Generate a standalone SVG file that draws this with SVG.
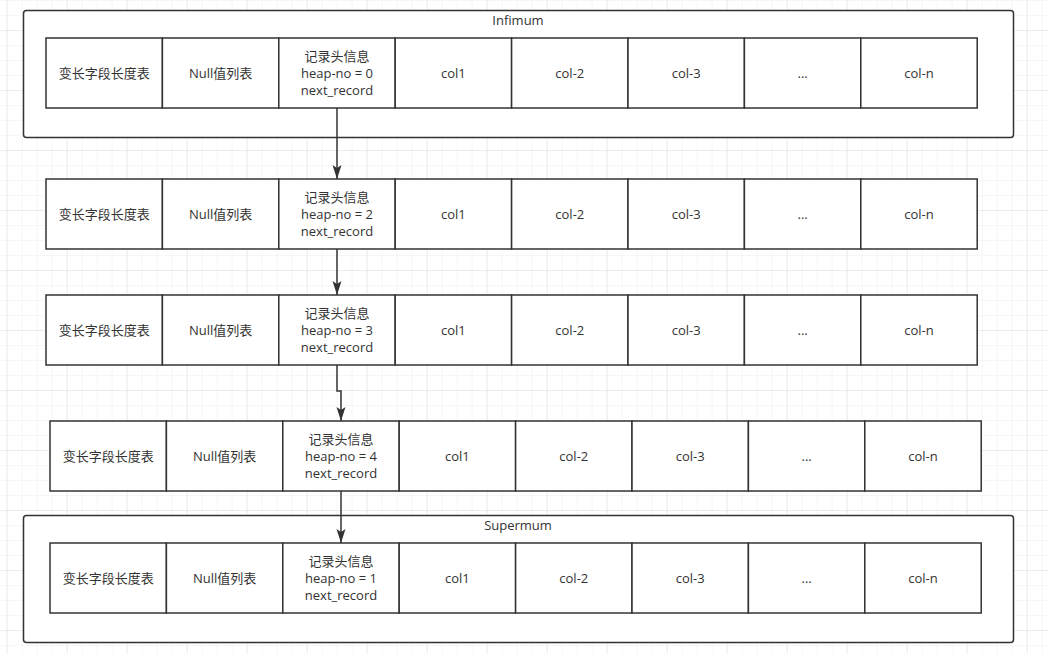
<svg xmlns="http://www.w3.org/2000/svg" width="1049" height="654" viewBox="0 0 1049 654">
<style>
  .cell { fill: #ffffff; stroke: #333333; stroke-width: 1.5; }
  .outer { fill: #ffffff; stroke: #333333; stroke-width: 1.5; }
  .t { font-family: "Open Sans", "Noto Sans", "Noto Sans CJK SC", sans-serif; font-size: 13px; fill: #333333; text-anchor: middle; dominant-baseline: central; }
  .edge { fill: none; stroke: #333333; stroke-width: 1.5; }
</style>
<defs>
  <pattern id="minor" x="6.7" y="0" width="15" height="15" patternUnits="userSpaceOnUse">
    <path d="M0,0 V15 M0,0 H15" fill="none" stroke="#eeeeee" stroke-width="1"/>
  </pattern>
  <pattern id="major" x="6.7" y="30" width="60" height="60" patternUnits="userSpaceOnUse">
    <path d="M0,0 V60 M0,0 H60" fill="none" stroke="#e2e2e2" stroke-width="1"/>
  </pattern>
  <marker id="arrow" viewBox="0 0 14 10" refX="14" refY="5" markerWidth="14" markerHeight="10" markerUnits="userSpaceOnUse" orient="auto">
    <path d="M0,0.5 L14,5 L0,9.5 L3,5 Z" fill="#333333"/>
  </marker>
</defs>
<rect width="1049" height="654" fill="#ffffff"/>
<rect width="1049" height="654" fill="url(#minor)"/>
<rect width="1049" height="654" fill="url(#major)"/>

<g id="infimum">
  <rect class="outer" x="23.5" y="10.5" width="990" height="127" rx="3"/>
  <text class="t" x="518" y="20">Infimum</text>
</g>
<g id="supermum">
  <rect class="outer" x="23.5" y="515.5" width="990" height="127" rx="3"/>
  <text class="t" x="518" y="525">Supermum</text>
</g>

<g id="row1">
  <g id="r1c1"><rect class="cell" x="46" y="38" width="116.4" height="70"/><text class="t" x="104.2" y="73">变长字段长度表</text></g>
  <g id="r1c2"><rect class="cell" x="162.4" y="38" width="116.4" height="70"/><text class="t" x="220.6" y="73">Null值列表</text></g>
  <g id="r1c3"><rect class="cell" x="278.8" y="38" width="116.4" height="70"/><text class="t" x="337" y="73"><tspan x="337" dy="-17">记录头信息</tspan><tspan x="337" dy="17">heap-no = 0</tspan><tspan x="337" dy="17">next_record</tspan></text></g>
  <g id="r1c4"><rect class="cell" x="395.2" y="38" width="116.4" height="70"/><text class="t" x="453.4" y="73">col1</text></g>
  <g id="r1c5"><rect class="cell" x="511.6" y="38" width="116.4" height="70"/><text class="t" x="569.8" y="73">col-2</text></g>
  <g id="r1c6"><rect class="cell" x="628" y="38" width="116.4" height="70"/><text class="t" x="686.2" y="73">col-3</text></g>
  <g id="r1c7"><rect class="cell" x="744.4" y="38" width="116.4" height="70"/><text class="t" x="802.6" y="73">...</text></g>
  <g id="r1c8"><rect class="cell" x="860.8" y="38" width="116.4" height="70"/><text class="t" x="919" y="73">col-n</text></g>
</g>

<g id="row2">
  <g id="r2c1"><rect class="cell" x="46" y="179" width="116.4" height="70"/><text class="t" x="104.2" y="214">变长字段长度表</text></g>
  <g id="r2c2"><rect class="cell" x="162.4" y="179" width="116.4" height="70"/><text class="t" x="220.6" y="214">Null值列表</text></g>
  <g id="r2c3"><rect class="cell" x="278.8" y="179" width="116.4" height="70"/><text class="t" x="337" y="214"><tspan x="337" dy="-17">记录头信息</tspan><tspan x="337" dy="17">heap-no = 2</tspan><tspan x="337" dy="17">next_record</tspan></text></g>
  <g id="r2c4"><rect class="cell" x="395.2" y="179" width="116.4" height="70"/><text class="t" x="453.4" y="214">col1</text></g>
  <g id="r2c5"><rect class="cell" x="511.6" y="179" width="116.4" height="70"/><text class="t" x="569.8" y="214">col-2</text></g>
  <g id="r2c6"><rect class="cell" x="628" y="179" width="116.4" height="70"/><text class="t" x="686.2" y="214">col-3</text></g>
  <g id="r2c7"><rect class="cell" x="744.4" y="179" width="116.4" height="70"/><text class="t" x="802.6" y="214">...</text></g>
  <g id="r2c8"><rect class="cell" x="860.8" y="179" width="116.4" height="70"/><text class="t" x="919" y="214">col-n</text></g>
</g>

<g id="row3">
  <g id="r3c1"><rect class="cell" x="46" y="295" width="116.4" height="70"/><text class="t" x="104.2" y="330">变长字段长度表</text></g>
  <g id="r3c2"><rect class="cell" x="162.4" y="295" width="116.4" height="70"/><text class="t" x="220.6" y="330">Null值列表</text></g>
  <g id="r3c3"><rect class="cell" x="278.8" y="295" width="116.4" height="70"/><text class="t" x="337" y="330"><tspan x="337" dy="-17">记录头信息</tspan><tspan x="337" dy="17">heap-no = 3</tspan><tspan x="337" dy="17">next_record</tspan></text></g>
  <g id="r3c4"><rect class="cell" x="395.2" y="295" width="116.4" height="70"/><text class="t" x="453.4" y="330">col1</text></g>
  <g id="r3c5"><rect class="cell" x="511.6" y="295" width="116.4" height="70"/><text class="t" x="569.8" y="330">col-2</text></g>
  <g id="r3c6"><rect class="cell" x="628" y="295" width="116.4" height="70"/><text class="t" x="686.2" y="330">col-3</text></g>
  <g id="r3c7"><rect class="cell" x="744.4" y="295" width="116.4" height="70"/><text class="t" x="802.6" y="330">...</text></g>
  <g id="r3c8"><rect class="cell" x="860.8" y="295" width="116.4" height="70"/><text class="t" x="919" y="330">col-n</text></g>
</g>

<g id="row4">
  <g id="r4c1"><rect class="cell" x="50" y="421" width="116.4" height="70"/><text class="t" x="108.2" y="456">变长字段长度表</text></g>
  <g id="r4c2"><rect class="cell" x="166.4" y="421" width="116.4" height="70"/><text class="t" x="224.6" y="456">Null值列表</text></g>
  <g id="r4c3"><rect class="cell" x="282.8" y="421" width="116.4" height="70"/><text class="t" x="341" y="456"><tspan x="341" dy="-17">记录头信息</tspan><tspan x="341" dy="17">heap-no = 4</tspan><tspan x="341" dy="17">next_record</tspan></text></g>
  <g id="r4c4"><rect class="cell" x="399.2" y="421" width="116.4" height="70"/><text class="t" x="457.4" y="456">col1</text></g>
  <g id="r4c5"><rect class="cell" x="515.6" y="421" width="116.4" height="70"/><text class="t" x="573.8" y="456">col-2</text></g>
  <g id="r4c6"><rect class="cell" x="632" y="421" width="116.4" height="70"/><text class="t" x="690.2" y="456">col-3</text></g>
  <g id="r4c7"><rect class="cell" x="748.4" y="421" width="116.4" height="70"/><text class="t" x="806.6" y="456">...</text></g>
  <g id="r4c8"><rect class="cell" x="864.8" y="421" width="116.4" height="70"/><text class="t" x="923" y="456">col-n</text></g>
</g>

<g id="row5">
  <g id="r5c1"><rect class="cell" x="50" y="543" width="116.4" height="70"/><text class="t" x="108.2" y="578">变长字段长度表</text></g>
  <g id="r5c2"><rect class="cell" x="166.4" y="543" width="116.4" height="70"/><text class="t" x="224.6" y="578">Null值列表</text></g>
  <g id="r5c3"><rect class="cell" x="282.8" y="543" width="116.4" height="70"/><text class="t" x="341" y="578"><tspan x="341" dy="-17">记录头信息</tspan><tspan x="341" dy="17">heap-no = 1</tspan><tspan x="341" dy="17">next_record</tspan></text></g>
  <g id="r5c4"><rect class="cell" x="399.2" y="543" width="116.4" height="70"/><text class="t" x="457.4" y="578">col1</text></g>
  <g id="r5c5"><rect class="cell" x="515.6" y="543" width="116.4" height="70"/><text class="t" x="573.8" y="578">col-2</text></g>
  <g id="r5c6"><rect class="cell" x="632" y="543" width="116.4" height="70"/><text class="t" x="690.2" y="578">col-3</text></g>
  <g id="r5c7"><rect class="cell" x="748.4" y="543" width="116.4" height="70"/><text class="t" x="806.6" y="578">...</text></g>
  <g id="r5c8"><rect class="cell" x="864.8" y="543" width="116.4" height="70"/><text class="t" x="923" y="578">col-n</text></g>
</g>

<g id="connectors">
  <path class="edge" d="M337,108 V179" marker-end="url(#arrow)"/>
  <path class="edge" d="M337,249 V295" marker-end="url(#arrow)"/>
  <path class="edge" d="M337,365 V391 H341 V421" marker-end="url(#arrow)"/>
  <path class="edge" d="M341,491 V543" marker-end="url(#arrow)"/>
</g>
</svg>
